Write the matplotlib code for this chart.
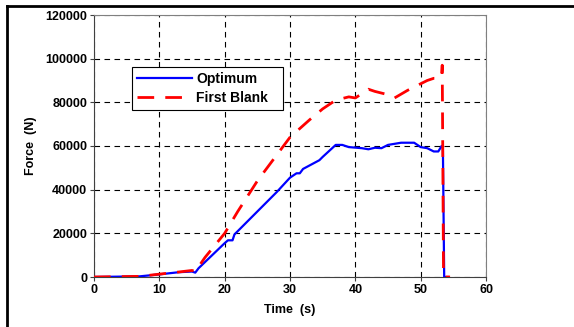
import matplotlib
matplotlib.use("Agg")
import matplotlib.pyplot as plt
from matplotlib.lines import Line2D

plt.rcParams["font.family"] = ["Liberation Sans", "DejaVu Sans"]
plt.rcParams["font.weight"] = "bold"

# Optimum blank (blue, solid)
t_opt = [0, 7, 10, 13, 15, 15.5, 16, 20, 20.5, 21.2, 21.5, 25, 28, 30, 31, 31.5, 32,
         34.5, 35, 37, 38, 39, 41, 42, 43, 44, 45, 46, 47, 49, 50, 51, 52, 52.7,
         53.2, 53.4, 53.6, 54.2]
f_opt = [0, 300, 1200, 2200, 2500, 2000, 4000, 15500, 16800, 16800, 19500, 30000, 39000,
         45500, 47500, 47500, 49500, 53500, 55000, 60500, 60500, 59500, 59000, 58500,
         59200, 59000, 60500, 61000, 61500, 61500, 59500, 59000, 57500, 57500,
         60000, 60000, 0, 0]

# First blank (red, dashed)
t_first = [0, 7, 10, 13, 15, 15.5, 17, 20, 22, 25, 30, 33, 35, 37, 39, 40, 42, 43, 45,
           46, 48, 50, 51, 52, 53, 53.2, 53.3, 53.5, 54.5]
f_first = [0, 300, 1300, 2300, 3000, 2500, 9000, 20000, 30000, 44000, 64000, 72000,
           77000, 81000, 82500, 82000, 86000, 85000, 83500, 82000, 85500, 88500, 90000,
           91000, 91000, 92000, 97000, 0, 0]

fig = plt.figure(figsize=(5.74, 3.27), dpi=100)
ax = fig.add_axes([94 / 574, 1 - 277 / 327, 392 / 574, 262 / 327])

ax.plot(t_opt, f_opt, color="#0000ff", lw=1.6, label="Optimum", zorder=3)
ax.plot(t_first, f_first, color="#ff0000", lw=2.0, ls=(0, (6, 4)), label="First Blank",
        zorder=4)

ax.set_xlim(0, 60)
ax.set_ylim(0, 120000)
ax.set_xticks(range(0, 61, 10))
ax.set_yticks(range(0, 120001, 20000))
ax.grid(True, color="black", ls=(0, (5, 4)), lw=0.8)
for s in ax.spines.values():
    s.set_color("#808080")
ax.spines["left"].set_color("#404040")
ax.spines["bottom"].set_color("#404040")
ax.tick_params(direction="out", length=3, labelsize=9, color="#404040", pad=2)
for lab in ax.get_xticklabels() + ax.get_yticklabels():
    lab.set_fontweight("bold")
ax.set_xlabel("Time  (s)", fontsize=9, fontweight="bold", labelpad=6)
ax.set_ylabel("Force  (N)", fontsize=9, fontweight="bold", labelpad=6)

leg = ax.legend(loc="upper left", bbox_to_anchor=(0.097, 0.40, 0.385, 0.40),
                mode="expand", fontsize=10,
                frameon=True, fancybox=False, edgecolor="black", framealpha=1,
                handlelength=4.0, borderpad=0.35, labelspacing=0.35, handletextpad=0.25,
                borderaxespad=0)
leg.get_frame().set_linewidth(0.8)
for txt in leg.get_texts():
    txt.set_fontweight("bold")

# outer frame (cropped rectangle around the figure)
fig.add_artist(Line2D([7 / 574, 1], [1 - 6 / 327, 1 - 6 / 327], transform=fig.transFigure,
                      color="black", lw=2))
fig.add_artist(Line2D([7 / 574, 7 / 574], [0, 1 - 6 / 327], transform=fig.transFigure,
                      color="black", lw=2))

fig.savefig("out.png", dpi=100, facecolor="white")
